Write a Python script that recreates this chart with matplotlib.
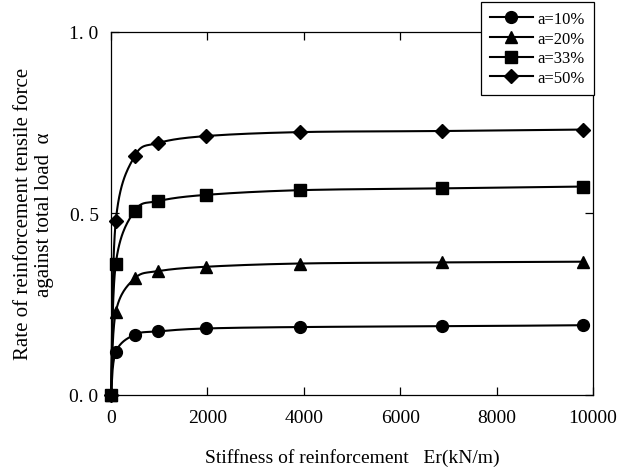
import numpy as np
import matplotlib
matplotlib.use("Agg")
import matplotlib.pyplot as plt

# data
er = [0, 98, 490, 980, 1960, 3920, 6860, 9800]
a10 = [0, 0.118, 0.166, 0.175, 0.183, 0.187, 0.189, 0.192]
a20 = [0, 0.228, 0.321, 0.341, 0.353, 0.362, 0.365, 0.367]
a33 = [0, 0.361, 0.507, 0.534, 0.551, 0.564, 0.569, 0.574]
a50 = [0, 0.479, 0.658, 0.694, 0.713, 0.724, 0.727, 0.731]
labels = ["a=10%", "a=20%", "a=33%", "a=50%"]
markers = ["o", "^", "s", "D"]


def smooth(x, y, n=30):
    # Catmull-Rom curve through the points (like a spreadsheet smoothed line)
    x = np.asarray(x, float)
    y = np.asarray(y, float)
    px = np.concatenate([[x[0]], x, [x[-1]]])
    py = np.concatenate([[y[0]], y, [y[-1]]])
    xs, ys = [], []
    t = np.linspace(0, 1, n)
    for i in range(1, len(px) - 2):
        for p, out in ((px, xs), (py, ys)):
            p0, p1, p2, p3 = p[i - 1], p[i], p[i + 1], p[i + 2]
            m1 = (p2 - p0) / 2.0
            m2 = (p3 - p1) / 2.0
            h00 = 2 * t**3 - 3 * t**2 + 1
            h10 = t**3 - 2 * t**2 + t
            h01 = -2 * t**3 + 3 * t**2
            h11 = t**3 - t**2
            out.extend(h00 * p1 + h10 * m1 + h01 * p2 + h11 * m2)
    return xs, ys


plt.rcParams['font.family'] = ['Liberation Serif', 'DejaVu Serif']

fig = plt.figure(figsize=(6.31, 4.77), dpi=100)
ax = fig.add_axes([0.176, 0.170, 0.764, 0.761])

sizes = {'o': 8.5, '^': 8.5, 's': 8, 'D': 7.5}
series = [a10, a20, a33, a50]
for ys, lab, mk in zip(series, labels, markers):
    sx, sy = smooth(er, ys)
    ax.plot(sx, sy, color='black', lw=1.5, clip_on=False)
    ax.plot(er, ys, linestyle='none', marker=mk, color='black', ms=sizes[mk],
            clip_on=False, zorder=3)

# legend proxies
handles = [ax.plot([], [], color='black', lw=1.5, marker=mk, ms=sizes[mk])[0]
           for mk in markers]
leg = fig.legend(handles, labels, loc='upper right', bbox_to_anchor=(0.941, 0.994),
                 bbox_transform=fig.transFigure, borderaxespad=0, fancybox=False,
                 edgecolor='black', framealpha=1, fontsize=12, handlelength=2.6,
                 labelspacing=0.22, handletextpad=0.25, borderpad=0.55)
leg.get_frame().set_linewidth(0.9)

ax.set_xlim(0, 10000)
ax.set_ylim(0, 1.0)
ax.set_xticks([0, 2000, 4000, 6000, 8000, 10000])
ax.set_yticks([0, 0.5, 1.0])
ax.set_yticklabels(["0. 0", "0. 5", "1. 0"])
ax.tick_params(direction='in', top=True, right=True, labelsize=14, length=6, width=0.9)
ax.tick_params(axis='x', pad=10)
ax.tick_params(axis='y', pad=9)
for s in ax.spines.values():
    s.set_linewidth(0.9)

ax.set_xlabel("Stiffness of reinforcement   Er(kN/m)", fontsize=14, labelpad=16)
ax.set_ylabel("Rate of reinforcement tensile force\nagainst total load  α", fontsize=15,
              labelpad=11, linespacing=1.15)

fig.savefig("out.png", dpi=100)
